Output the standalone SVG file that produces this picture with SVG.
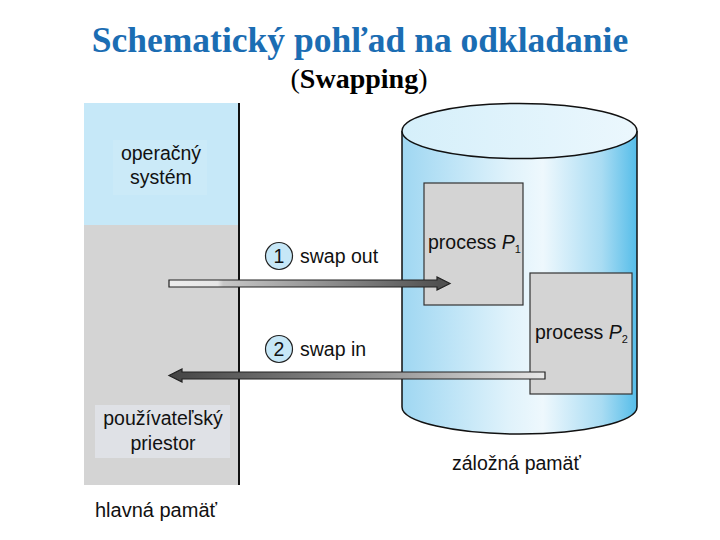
<svg xmlns="http://www.w3.org/2000/svg" width="720" height="540" viewBox="0 0 720 540">
<defs>
<linearGradient id="cyl" x1="0" y1="0" x2="1" y2="0">
<stop offset="0" stop-color="#9fd7f2"/>
<stop offset="0.45" stop-color="#dff2fb"/>
<stop offset="0.6" stop-color="#eef8fd"/>
<stop offset="0.85" stop-color="#a9dcf3"/>
<stop offset="1" stop-color="#55bde9"/>
</linearGradient>
<linearGradient id="top" x1="0" y1="0" x2="1" y2="0">
<stop offset="0" stop-color="#d5effa"/>
<stop offset="1" stop-color="#ebf7fd"/>
</linearGradient>
<linearGradient id="a1" x1="169" y1="0" x2="440" y2="0" gradientUnits="userSpaceOnUse">
<stop offset="0" stop-color="#eeeeee"/>
<stop offset="0.18" stop-color="#e6e6e6"/>
<stop offset="0.2" stop-color="#c8c8c8"/>
<stop offset="1" stop-color="#505050"/>
</linearGradient>
<linearGradient id="a2" x1="169" y1="0" x2="545" y2="0" gradientUnits="userSpaceOnUse">
<stop offset="0" stop-color="#444444"/>
<stop offset="0.6" stop-color="#9a9a9a"/>
<stop offset="1" stop-color="#e8e8e8"/>
</linearGradient>
<style>
.t{font-family:"Liberation Sans",Arial,sans-serif;font-size:19.5px;fill:#111}
.box{stroke:#333;stroke-width:1.2}
.num{fill:#c6e7f7;stroke:#222;stroke-width:1.2}
</style>
</defs>
<rect width="720" height="540" fill="#ffffff"/>
<g id="title">
<text x="360" y="52" text-anchor="middle" font-family="Liberation Serif,Times New Roman,serif" font-size="35.5" font-weight="bold" fill="#1b6db3">Schematický pohľad na odkladanie</text>
<text x="359" y="88" text-anchor="middle" font-family="Liberation Serif,Times New Roman,serif" font-size="28" fill="#000">(<tspan font-weight="bold">Swapping</tspan>)</text>
</g>
<g id="main-memory">
<rect x="84" y="103" width="155" height="122" fill="#c6e8f8"/>
<rect x="84" y="225" width="155" height="260" fill="#d4d4d4"/>
<line x1="239" y1="103" x2="239" y2="485" stroke="#111" stroke-width="2"/>
<text class="t" x="95" y="517" style="font-size:20px">hlavná pamäť</text>
</g>
<g id="os">
<rect x="113" y="140" width="94" height="55" fill="#cbeaf8"/>
<text class="t" x="161" y="160" text-anchor="middle">operačný</text>
<text class="t" x="161" y="184" text-anchor="middle">systém</text>
</g>
<g id="user-space">
<rect x="95" y="405" width="135" height="53" fill="#dfe1e6"/>
<text class="t" x="163" y="425" text-anchor="middle">používateľský</text>
<text class="t" x="163" y="450" text-anchor="middle">priestor</text>
</g>
<g id="backing-store">
<path d="M402 131 L402 407 A117.5 27 0 0 0 637 407 L637 131 Z" fill="url(#cyl)"/>
<path d="M402 131 L402 407 A117.5 27 0 0 0 637 407 L637 131" fill="none" stroke="#111" stroke-width="1.5"/>
<ellipse cx="519.5" cy="131" rx="117.5" ry="27.5" fill="url(#top)" stroke="#111" stroke-width="1.5"/>
<text class="t" x="452" y="470">záložná pamäť</text>
</g>
<g id="process-p1">
<rect class="box" x="424" y="183" width="99" height="122" fill="#d4d4d4"/>
<text class="t" x="428" y="249">process <tspan font-style="italic">P</tspan><tspan font-size="11" dy="4">1</tspan></text>
</g>
<g id="process-p2">
<rect class="box" x="530" y="273" width="102" height="121" fill="#d4d4d4"/>
<text class="t" x="535" y="339">process <tspan font-style="italic">P</tspan><tspan font-size="11" dy="4">2</tspan></text>
</g>
<g id="connectors">
<path d="M169 280 L437 280 L437 277 L450 283.5 L437 290 L437 287 L169 287 Z" fill="url(#a1)" stroke="#222" stroke-width="1.2"/>
<path d="M545 372 L182 372 L182 369 L169 375.5 L182 382 L182 379 L545 379 Z" fill="url(#a2)" stroke="#222" stroke-width="1.2"/>
</g>
<g id="step1">
<circle class="num" cx="279" cy="256" r="13.5"/>
<text class="t" x="279" y="263" text-anchor="middle">1</text>
<text class="t" x="300" y="263">swap out</text>
</g>
<g id="step2">
<circle class="num" cx="279" cy="349" r="13.5"/>
<text class="t" x="279" y="356" text-anchor="middle">2</text>
<text class="t" x="300" y="356">swap in</text>
</g>
</svg>
